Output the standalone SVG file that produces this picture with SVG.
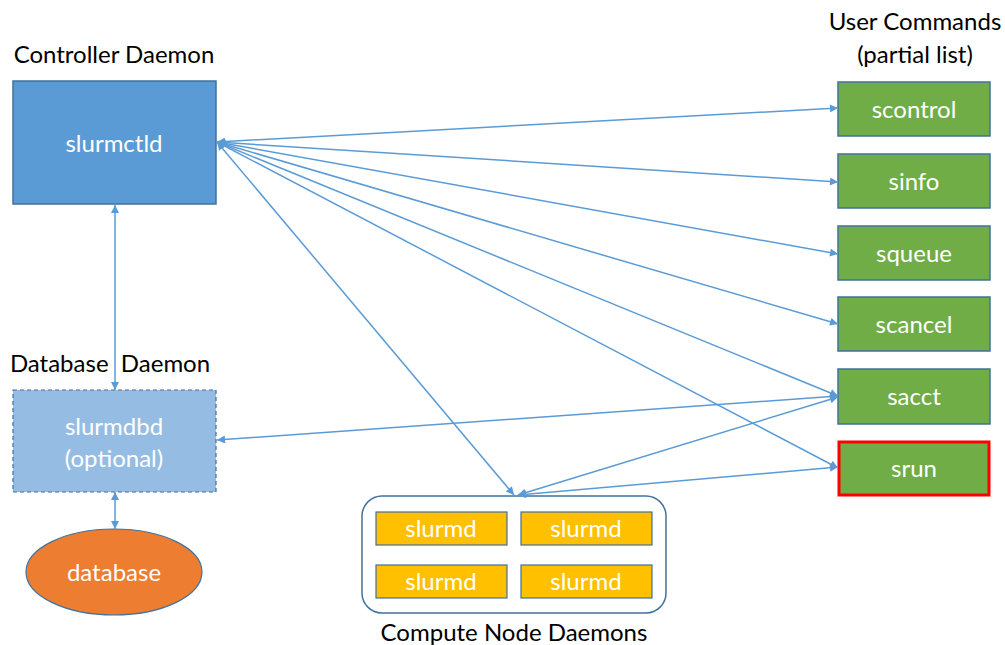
<svg xmlns="http://www.w3.org/2000/svg" width="1005" height="645" viewBox="0 0 1005 645">
<defs>
<marker id="ah" viewBox="0 0 10 10" refX="10" refY="5" markerWidth="10" markerHeight="8" markerUnits="userSpaceOnUse" orient="auto-start-reverse">
<path d="M0,0 L10,5 L0,10 z" fill="#5B9BD5"/>
</marker>
<style>
.lbl{font-family:Lato,"Liberation Sans",sans-serif;font-size:24px;fill:#000;text-anchor:middle}
.wt{font-family:Lato,"Liberation Sans",sans-serif;font-size:24px;fill:#fff;text-anchor:middle}
.cmd{fill:#70AD47;stroke:#41719C;stroke-width:1.5}
.sd{fill:#FFC000;stroke:#41719C;stroke-width:1.2}
.con{stroke:#5B9BD5;stroke-width:1.5;fill:none;marker-start:url(#ah);marker-end:url(#ah)}
</style>
</defs>
<rect width="1005" height="645" fill="#fff"/>
<text class="lbl" x="114" y="63">Controller Daemon</text>
<text class="lbl" x="110" y="372" xml:space="preserve">Database  Daemon</text>
<text class="lbl" x="915" y="30">User Commands</text>
<text class="lbl" x="915" y="63">(partial list)</text>
<text class="lbl" x="514" y="641">Compute Node Daemons</text>
<g id="slurmctld">
<rect x="13" y="81" width="203" height="123" fill="#5B9BD5" stroke="#41719C" stroke-width="1.5"/>
<text class="wt" x="114" y="152">slurmctld</text>
</g>
<g id="slurmdbd">
<rect x="13" y="390" width="203" height="102" fill="#95BDE4" stroke="#41719C" stroke-width="1.2" stroke-dasharray="4,3"/>
<text class="wt" x="114" y="435">slurmdbd</text>
<text class="wt" x="114" y="467">(optional)</text>
</g>
<g id="database">
<ellipse cx="114" cy="572" rx="88" ry="43" fill="#ED7D31" stroke="#41719C" stroke-width="1.2"/>
<text class="wt" x="114" y="581">database</text>
</g>
<g id="compute">
<rect x="362" y="496" width="304" height="117" rx="20" fill="#fff" stroke="#41719C" stroke-width="1.5"/>
<rect class="sd" x="376" y="512" width="131" height="33"/>
<rect class="sd" x="521" y="512" width="131" height="33"/>
<rect class="sd" x="376" y="565" width="131" height="33"/>
<rect class="sd" x="521" y="565" width="131" height="33"/>
<text class="wt" x="441" y="537">slurmd</text>
<text class="wt" x="586" y="537">slurmd</text>
<text class="wt" x="441" y="590">slurmd</text>
<text class="wt" x="586" y="590">slurmd</text>
</g>
<g id="scontrol"><rect class="cmd" x="838" y="82" width="152" height="54"/><text class="wt" x="914" y="118">scontrol</text></g>
<g id="sinfo"><rect class="cmd" x="838" y="154" width="152" height="54"/><text class="wt" x="914" y="190">sinfo</text></g>
<g id="squeue"><rect class="cmd" x="838" y="226" width="152" height="54"/><text class="wt" x="914" y="262">squeue</text></g>
<g id="scancel"><rect class="cmd" x="838" y="297" width="152" height="54"/><text class="wt" x="914" y="333">scancel</text></g>
<g id="sacct"><rect class="cmd" x="838" y="369" width="152" height="55"/><text class="wt" x="914" y="405">sacct</text></g>
<g id="srun"><rect x="839" y="442" width="150" height="53" fill="#70AD47" stroke="#FF0000" stroke-width="3"/><text class="wt" x="914" y="477">srun</text></g>
<g id="connectors">
<line class="con" x1="115" y1="205" x2="115" y2="390"/>
<line class="con" x1="115" y1="492" x2="115" y2="529"/>
<line class="con" x1="217" y1="142" x2="838" y2="108"/>
<line class="con" x1="217" y1="142" x2="838" y2="182"/>
<line class="con" x1="217" y1="142" x2="838" y2="254"/>
<line class="con" x1="217" y1="142" x2="838" y2="324"/>
<line class="con" x1="217" y1="142" x2="838" y2="396"/>
<line class="con" x1="217" y1="142" x2="838" y2="468"/>
<line class="con" x1="217" y1="142" x2="514" y2="495"/>
<line class="con" x1="217" y1="440" x2="838" y2="396"/>
<line class="con" x1="518" y1="495" x2="838" y2="397"/>
<line class="con" x1="518" y1="495" x2="838" y2="467"/>
</g>
</svg>
